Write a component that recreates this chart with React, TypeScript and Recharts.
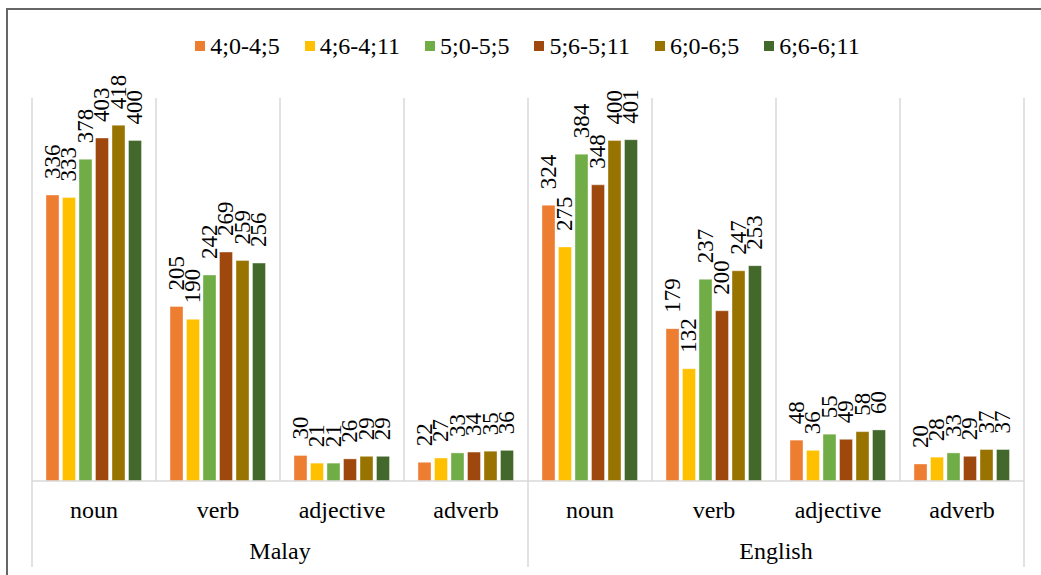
import React from 'react';
import { BarChart, Bar, XAxis, YAxis, CartesianGrid, Legend, LabelList } from 'recharts';

const categories = ['noun', 'verb', 'adjective', 'adverb', 'noun', 'verb', 'adjective', 'adverb'];
const groups = ['Malay', 'English'];
const seriesNames = ['4;0-4;5', '4;6-4;11', '5;0-5;5', '5;6-5;11', '6;0-6;5', '6;6-6;11'];
const s1 = [336, 205, 30, 22, 324, 179, 48, 20];
const s2 = [333, 190, 21, 27, 275, 132, 36, 28];
const s3 = [378, 242, 21, 33, 384, 237, 55, 33];
const s4 = [403, 269, 26, 34, 348, 200, 49, 29];
const s5 = [418, 259, 29, 35, 400, 247, 58, 37];
const s6 = [400, 256, 29, 36, 401, 253, 60, 37];
const seriesValues = [s1, s2, s3, s4, s5, s6];
const colors = ['#ED7D31', '#FFC000', '#70AD47', '#9E480E', '#997300', '#43682B'];
const groupTicks = [0, 2, 4, 6, 8];

const data = categories.map((cat, i) => {
  const row: any = { cat, pos: i + 0.5 };
  seriesNames.forEach((n, k) => { row['s' + k] = seriesValues[k][i]; });
  return row;
});

const FONT = 'Liberation Serif';
const CAT_H = 50;
const GRP_H = 40;

const CatTick = (props: any) => {
  const { x, y, payload } = props;
  return (
    <text x={x} y={y + 29} textAnchor="middle" dominantBaseline="central" fontFamily={FONT} fontSize={24} fill="#000">
      {payload.value}
    </text>
  );
};

const GroupTick = (props: any) => {
  const { x, y, payload } = props;
  const v = payload.value;
  if (v % 4 === 0) {
    return <line x1={x} x2={x} y1={y - CAT_H} y2={y + GRP_H - 4} stroke="#d9d9d9" strokeWidth={1.5} />;
  }
  return (
    <text x={x} y={y + 20} textAnchor="middle" dominantBaseline="central" fontFamily={FONT} fontSize={24} fill="#000">
      {groups[v === 2 ? 0 : 1]}
    </text>
  );
};

const renderLabel = (props: any) => {
  const { x, y, width, value } = props;
  const cx = Number(x) + Number(width) / 2;
  const ty = Number(y) - 16;
  return (
    <text x={cx} y={ty} transform={`rotate(-90 ${cx} ${ty})`} textAnchor="start" dominantBaseline="central" fontFamily={FONT} fontSize={23} fill="#000">
      {value}
    </text>
  );
};

const LegendContent = () => (
  <div style={{ display: 'flex', justifyContent: 'center', fontFamily: FONT, fontSize: 24, color: '#000', paddingLeft: 14 }}>
    {seriesNames.map((n, k) => (
      <div key={n} style={{ display: 'flex', alignItems: 'center', marginRight: k < seriesNames.length - 1 ? 25 : 0 }}>
        <div style={{ width: 10, height: 10, background: colors[k], marginRight: 5 }} />
        <span style={{ lineHeight: '28px' }}>{n}</span>
      </div>
    ))}
  </div>
);

export default function App() {
  return (
    <div style={{ position: 'fixed', left: 0, top: 0, width: 1041, height: 575, overflow: 'hidden', background: '#fff' }}>
      <div style={{ position: 'absolute', left: 6, top: 8, width: 1200, height: 800, border: '2px solid #666', boxSizing: 'border-box' }} />
      <div style={{ position: 'absolute', left: 0, top: 0 }}>
        <BarChart width={1041} height={575} data={data} margin={{ top: 98, right: 17, left: 32, bottom: 4 }} barCategoryGap={14} barGap={3.5}>
          <CartesianGrid
            horizontal={false}
            stroke="#d9d9d9"
            strokeWidth={1.5}
            verticalCoordinatesGenerator={(p: any) => {
              const off = p.offset;
              return Array.from({ length: categories.length + 1 }, (_, i) => off.left + (off.width * i) / categories.length);
            }}
          />
          <XAxis dataKey="cat" xAxisId="cat" height={CAT_H} tickLine={false} tickSize={0} tickMargin={0} interval={0} tick={<CatTick />} stroke="#d9d9d9" strokeWidth={1.5} allowDuplicatedCategory={true} />
          <XAxis dataKey="pos" xAxisId="grp" type="number" domain={[0, categories.length]} ticks={groupTicks} height={GRP_H} tickLine={false} axisLine={false} tickSize={0} tickMargin={0} interval={0} tick={<GroupTick />} allowDataOverflow />
          <YAxis hide domain={[0, 450]} />
          <Legend verticalAlign="middle" layout="horizontal" wrapperStyle={{ top: 32, left: 0, width: 1041 }} content={<LegendContent />} />
          {seriesNames.map((n, k) => (
            <Bar key={n} xAxisId="cat" dataKey={'s' + k} name={n} fill={colors[k]} stroke="#ffffff" strokeOpacity={0.5} strokeWidth={0.75} isAnimationActive={false}>
              <LabelList dataKey={'s' + k} content={renderLabel} />
            </Bar>
          ))}
        </BarChart>
      </div>
    </div>
  );
}
